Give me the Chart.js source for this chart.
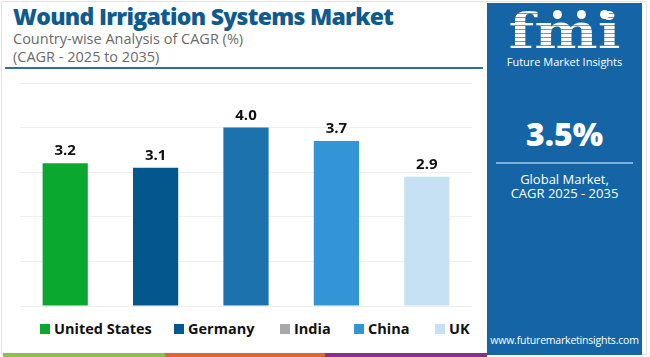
<!DOCTYPE html>
<html>
<head>
<meta charset="utf-8">
<script src="https://cdn.jsdelivr.net/npm/chart.js@4.4.1/dist/chart.umd.min.js"></script>
<style>
  html, body { margin:0; padding:0; background:#fff; }
  body { width:650px; height:357px; position:relative; overflow:hidden; font-family: "Open Sans", sans-serif; }
  .abs { position:absolute; white-space:nowrap; }
  #frame { left:1px; top:1px; width:646px; height:354px; border:1px solid #e3e3e3; box-sizing:border-box; }
  #title { left:13px; top:0px; font-size:23px; font-weight:800; color:#0f5a8f; letter-spacing:-0.7px; }
  #sub1 { left:13px; top:29px; font-size:14.5px; color:#6b6b6b; }
  #sub2 { left:13px; top:47px; font-size:14.5px; color:#6b6b6b; }
  #rule { left:5px; top:67px; width:478px; height:2px; background:#2f6d9e; }
  #panel { left:487px; top:3px; width:155px; height:352px; background:#1565a6; }
  #chartBox { left:0; top:70px; width:487px; height:240px; }
  #legend { left:0; top:318px; width:487px; height:22px; }
  .li { position:absolute; top:0; font-size:14.5px; font-weight:700; color:#111; line-height:22px; }
  .sw { position:absolute; top:6px; width:10px; height:10px; }
  .stripe { top:353px; height:4px; }
  #logo { left:487px; top:6px; width:155px; text-align:center; font-family:"DejaVu Serif", serif; font-weight:700; font-size:48px; line-height:50px;
          color:transparent; background:repeating-linear-gradient(#fff 0 3px, rgba(255,255,255,0.35) 3px 4px); -webkit-background-clip:text; background-clip:text; transform:scaleX(1.25); transform-origin:50% 0; }
  .dot { position:absolute; width:9px; height:9px; border-radius:50%; background:#fff; top:10px; }
  #fmiName { left:487px; top:54px; width:155px; text-align:center; font-size:11px; color:#fff; }
  #big { left:487px; top:112px; width:155px; text-align:center; font-size:32px; font-weight:800; color:#fff; }
  #prule { left:496px; top:162px; width:137px; height:2px; background:#7fb0d8; }
  #g1 { left:487px; top:170px; width:155px; text-align:center; font-size:13px; color:#fff; }
  #g2 { left:487px; top:184px; width:155px; text-align:center; font-size:13px; color:#fff; }
  #web { left:487px; top:333px; width:155px; text-align:center; font-size:10.5px; color:#fff; letter-spacing:-0.2px; }
</style>
</head>
<body>
<div id="frame" class="abs"></div>
<div id="title" class="abs">Wound Irrigation Systems Market</div>
<div id="sub1" class="abs">Country-wise Analysis of CAGR (%)</div>
<div id="sub2" class="abs">(CAGR - 2025 to 2035)</div>
<div id="rule" class="abs"></div>

<div id="panel" class="abs"></div>
<div id="logo" class="abs">fmi</div>
<div class="dot" style="left:553px"></div>
<div class="dot" style="left:577px"></div>
<div class="dot" style="left:600px"></div>
<div id="fmiName" class="abs">Future Market Insights</div>
<div id="big" class="abs">3.5%</div>
<div id="prule" class="abs"></div>
<div id="g1" class="abs">Global Market,</div>
<div id="g2" class="abs">CAGR 2025 - 2035</div>
<div id="web" class="abs">www.futuremarketinsights.com</div>

<div class="abs stripe" style="left:3px;width:162px;background:#8cbf4e"></div>
<div class="abs stripe" style="left:165px;width:160px;background:#e2653a"></div>
<div class="abs stripe" style="left:325px;width:162px;background:#8b2f8f"></div>

<div id="chartBox" class="abs"><canvas id="c"></canvas></div>
<div id="legend" class="abs"></div>

<script>
const countries = ['United States', 'Germany', 'India', 'China', 'UK'];
const cagr = [3.2, 3.1, 4.0, 3.7, 2.9];
const barColors = ['#0aa82f', '#04578c', '#1b72ac', '#3395d6', '#c6e1f3'];
const legendColors = ['#0aa82f', '#04578c', '#a8a8a8', '#3395d6', '#c6e1f3'];
const yTicks = [0, 1, 2, 3, 4, 5];
const legendX = [40, 174, 280, 354, 435];

const valueLabels = {
  id: 'valueLabels',
  afterDatasetsDraw(chart) {
    const ctx = chart.ctx;
    const meta = chart.getDatasetMeta(0);
    ctx.save();
    ctx.font = '700 15px "Open Sans", sans-serif';
    ctx.fillStyle = '#111';
    ctx.textAlign = 'center';
    ctx.textBaseline = 'alphabetic';
    meta.data.forEach((bar, i) => {
      ctx.fillText(cagr[i].toFixed(1), bar.x, bar.y - 8);
    });
    ctx.restore();
  }
};

new Chart(document.getElementById('c'), {
  type: 'bar',
  data: {
    labels: countries,
    datasets: [{ data: cagr, backgroundColor: barColors, borderWidth: 0, barPercentage: 0.5, categoryPercentage: 1 }]
  },
  options: {
    responsive: true,
    maintainAspectRatio: false,
    animation: false,
    layout: { padding: { left: 20, right: 15, top: 13, bottom: 4 } },
    plugins: { legend: { display: false }, tooltip: { enabled: false } },
    scales: {
      x: { display: false },
      y: {
        min: yTicks[0], max: yTicks[yTicks.length - 1],
        afterBuildTicks(scale) { scale.ticks = yTicks.map(v => ({ value: v })); },
        afterFit(scale) { scale.width = 0; },
        ticks: { display: false },
        border: { display: false },
        grid: { color: '#efefef', lineWidth: 1, drawTicks: false }
      }
    }
  },
  plugins: [valueLabels]
});

const lg = document.getElementById('legend');
countries.forEach((name, i) => {
  const sw = document.createElement('div');
  sw.className = 'sw';
  sw.style.left = legendX[i] + 'px';
  sw.style.background = legendColors[i];
  lg.appendChild(sw);
  const t = document.createElement('div');
  t.className = 'li';
  t.style.left = (legendX[i] + 14) + 'px';
  t.textContent = name;
  lg.appendChild(t);
});
</script>
</body>
</html>
